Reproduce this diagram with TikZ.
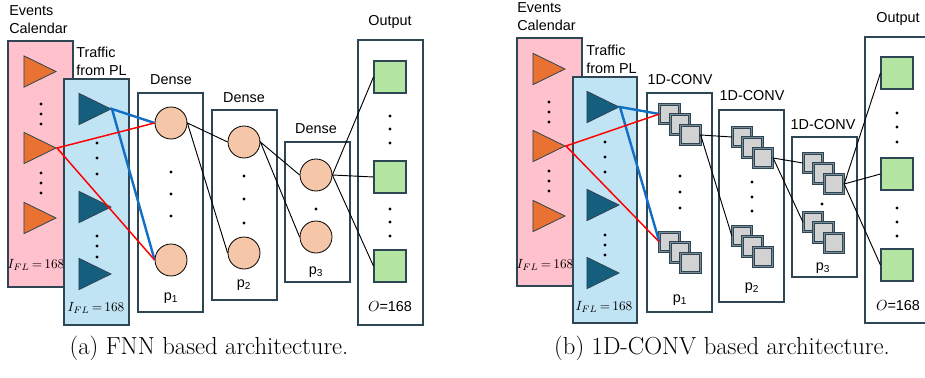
\documentclass[tikz,border=0pt]{standalone}
\usepackage{fontspec}
\setsansfont{Liberation Sans}
\usepackage{amsmath}
\usetikzlibrary{shapes.geometric}

\definecolor{evpink}{HTML}{FFC1CB}
\definecolor{trblue}{HTML}{C1E4F5}
\definecolor{evorange}{HTML}{E97132}
\definecolor{trdark}{HTML}{165E7E}
\definecolor{edge}{HTML}{2E4653}
\definecolor{neuron}{HTML}{F6C6A8}
\definecolor{outgreen}{HTML}{B4E5A2}
\definecolor{kerngray}{HTML}{D2D2D2}
\definecolor{kernring}{HTML}{7A8B95}
\definecolor{linkblue}{HTML}{1170C4}

% three stacked kernels, named #1-1 .. #1-3, first one centred at (#2,#3)
\newcommand{\convstack}[3]{%
  \foreach \k in {1,2,3}
    \node[kern] (#1-\k) at ({#2+10.5*(\k-1)},{#3+10.5*(\k-1)}) {};
}

\begin{document}
\begin{tikzpicture}[
    x=0.75pt, y=-0.75pt,
    font=\sffamily\fontsize{10.8}{13.5}\selectfont,
    lbl/.style   ={align=left, inner sep=0},
    ttl/.style   ={inner sep=0},
    ifl/.style   ={inner sep=0, font=\fontsize{10}{12}\selectfont},
    evbox/.style ={draw=edge, fill=evpink, line width=0.9pt},
    trbox/.style ={draw=edge, fill=trblue, line width=0.9pt},
    layer/.style ={draw=edge, fill=white, line width=0.9pt},
    evtri/.style ={isosceles triangle, isosceles triangle stretches, draw=edge,
                   fill=evorange, minimum width=23.5pt, minimum height=24pt,
                   inner sep=0, line width=0.6pt, anchor=apex},
    trtri/.style ={evtri, fill=trdark},
    neu/.style   ={circle, draw=black, fill=neuron, minimum size=24pt,
                   inner sep=0, line width=0.6pt},
    outsq/.style ={rectangle, draw=edge, fill=outgreen, minimum size=24pt,
                   inner sep=0, line width=0.8pt},
    kern/.style  ={rectangle, draw=edge, fill=kerngray, minimum size=14.5pt,
                   inner sep=0, line width=0.7pt, double=kernring,
                   double distance=0.9pt},
    redlink/.style ={draw=red, line width=1.1pt},
    bluelink/.style={draw=linkblue, line width=1.8pt},
    link/.style    ={draw=black, line width=0.7pt},
    capt/.style    ={font=\rmfamily\fontsize{18.5}{22}\selectfont},
  ]
  \useasboundingbox (0,0) rectangle (925,378);

  % ===== (a) FNN =====
  % --- inputs ---
  \draw[evbox] (8,41) rectangle (73,287);
  \node[lbl, anchor=west] (evtxtA) at (9,20) {Events\\Calendar};
  \node[evtri] (ea1) at (57,71.5) {};
  \node[evtri] (ea2) at (57,148) {};
  \node[evtri] (ea3) at (57,218) {};
  \foreach \y in {104,114,124,173,183,193} \fill (41,\y) circle (1.3pt);
  \node[ifl] (ifeA) at (36,265) {$I_{FL}\,{=}\,168$};

  \draw[trbox] (64,79) rectangle (129,325);
  \node[lbl, anchor=west] (trtxtA) at (76,61) {Traffic\\from PL};
  \node[trtri] (ta1) at (112,109) {};
  \node[trtri] (ta2) at (112,207) {};
  \node[trtri] (ta3) at (112,274) {};
  \foreach \y in {143,158,174,236,246,257} \fill (97,\y) circle (1.3pt);
  \node[ifl] (iftA) at (96,308) {$I_{FL}\,{=}\,168$};

  % --- dense layers ---
  \draw[layer] (138,93) rectangle (203,312);
  \node[ttl] (d1txt) at (171,80) {Dense};
  \node[neu] (na1) at (171,123) {};
  \node[neu] (na2) at (171,260) {};
  \foreach \y in {172,194,216} \fill (171,\y) circle (1.3pt);
  \node[ttl] (p1A) at (171,298) {p\textsubscript{1}};

  \draw[layer] (212,110) rectangle (277,300);
  \node[ttl] (d2txt) at (244,98) {Dense};
  \node[neu] (nb1) at (244,142) {};
  \node[neu] (nb2) at (244,253) {};
  \foreach \y in {176,199,223} \fill (244,\y) circle (1.3pt);
  \node[ttl] (p2A) at (244,285) {p\textsubscript{2}};

  \draw[layer] (285,142) rectangle (350,282);
  \node[ttl] (d3txt) at (316,129) {Dense};
  \node[neu] (nc1) at (316,175) {};
  \node[neu] (nc2) at (316,237) {};
  \fill (316,209) circle (1.3pt);
  \node[ttl] (p3A) at (316,272) {p\textsubscript{3}};

  % --- output ---
  \draw[layer] (358,40) rectangle (423,325);
  \node[ttl] (outtxtA) at (390,22) {Output};
  \node[outsq] (oa1) at (390,77) {};
  \node[outsq] (oa2) at (390,177) {};
  \node[outsq] (oa3) at (390,266) {};
  \foreach \y in {116,129,143,209,222,236} \fill (390,\y) circle (1.3pt);
  \node[ttl] (osA) at (390,307) {$O$=168};

  % --- links ---
  \draw[bluelink] (na1.west) -- (ta1.apex) -- (na2.west);
  \draw[redlink]  (na1.west) -- (ea2.apex) -- (na2.west);
  \draw[link] (nb1.west) -- (na1.east) -- (nb2.west);
  \draw[link] (nc1.west) -- (nb1.east) -- (nc2.west);
  \foreach \i in {1,2,3} \draw[link] (nc1.east) -- (oa\i.west);

  \node[capt] (capA) at (209,348) {(a) FNN based architecture.};

  % ===== (b) 1D-CONV =====
  % --- inputs ---
  \draw[evbox] (517,38) rectangle (582,286);
  \node[lbl, anchor=west] (evtxtB) at (517,17) {Events\\Calendar};
  \node[evtri] (eb1) at (566,69) {};
  \node[evtri] (eb2) at (566,146) {};
  \node[evtri] (eb3) at (566,216) {};
  \foreach \y in {102,112,122,171,181,191} \fill (549,\y) circle (1.3pt);
  \node[ifl] (ifeB) at (545,265) {$I_{FL}\,{=}\,168$};

  \draw[trbox] (573,77) rectangle (637,323);
  \node[lbl, anchor=west] (trtxtB) at (586,59) {Traffic\\from PL};
  \node[trtri] (tb1) at (620,107) {};
  \node[trtri] (tb2) at (620,205) {};
  \node[trtri] (tb3) at (620,273) {};
  \foreach \y in {142,157,172,235,245,255} \fill (605,\y) circle (1.3pt);
  \node[ifl] (iftB) at (604,307) {$I_{FL}\,{=}\,168$};

  % --- conv layers ---
  \draw[layer] (647,93) rectangle (712,312);
  \node[ttl] (c1txt) at (680,80) {1D-CONV};
  \convstack{c1a}{669.5}{114}
  \convstack{c1b}{669.5}{242}
  \foreach \y in {176,192,208} \fill (680,\y) circle (1.3pt);
  \node[ttl] (p1B) at (680,300) {p\textsubscript{1}};

  \draw[layer] (719,110) rectangle (784,302);
  \node[ttl] (c2txt) at (752,96) {1D-CONV};
  \convstack{c2a}{742}{137}
  \convstack{c2b}{742}{236}
  \foreach \y in {182,197,211} \fill (752,\y) circle (1.3pt);
  \node[ttl] (p2B) at (752,288) {p\textsubscript{2}};

  \draw[layer] (792,137) rectangle (857,277);
  \node[ttl] (c3txt) at (823,125) {1D-CONV};
  \convstack{c3a}{813}{163}
  \convstack{c3b}{813}{222}
  \fill (822,204) circle (1.3pt);
  \node[ttl] (p3B) at (823,268) {p\textsubscript{3}};

  % --- output ---
  \draw[layer] (865,37) rectangle (931,323);
  \node[ttl] (outtxtB) at (898,19) {Output};
  \node[outsq] (ob1) at (897,73) {};
  \node[outsq] (ob2) at (897,174) {};
  \node[outsq] (ob3) at (897,265) {};
  \foreach \y in {113,127,142,208,222,236} \fill (897,\y) circle (1.3pt);
  \node[ttl] (osB) at (898,306) {$O$=168};

  % --- links ---
  \draw[bluelink] (c1a-1.west) -- (tb1.apex) -- (c1b-1.west);
  \draw[redlink]  (c1a-1.west) -- (eb2.apex) -- (c1b-1.west);
  \draw[link] (c2a-1.west) -- (c1a-3.east) -- (c2b-1.west);
  \draw[link] (c3a-1.west) -- (c2a-3.east) -- (c3b-1.west);
  \foreach \i in {1,2,3} \draw[link] (c3a-3.east) -- (ob\i.west);

  \node[capt] (capB) at (722,348) {(b) 1D-CONV based architecture.};
\end{tikzpicture}
\end{document}
